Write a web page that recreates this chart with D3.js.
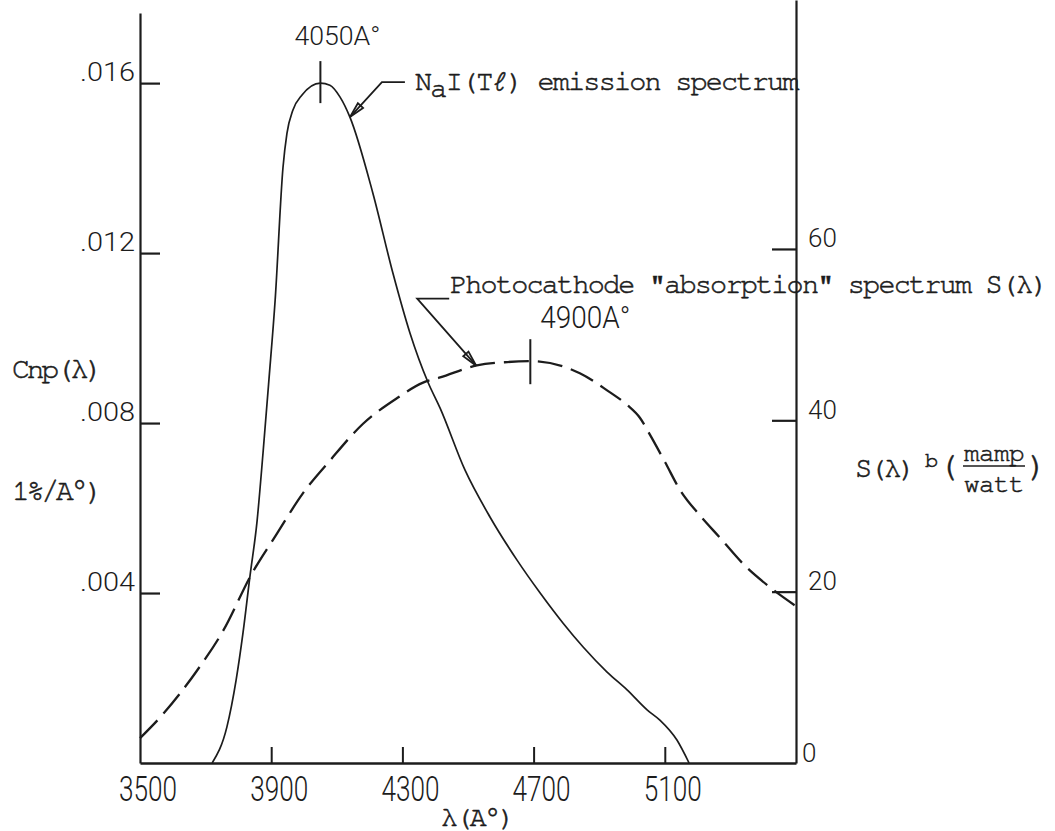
<!DOCTYPE html>
<html>
<head>
<meta charset="utf-8">
<script src="https://cdn.jsdelivr.net/npm/d3@7"></script>
<style>
  html, body { margin: 0; padding: 0; background: #fff; }
  svg { display: block; }
  .type { font-family: "Nimbus Mono PS", "FreeMono", "Liberation Mono", monospace; fill: #1c1c1c;
          stroke: #1c1c1c; stroke-width: 0.55; white-space: pre; }
  .num { font-family: Roboto, "DejaVu Sans", sans-serif; font-weight: 300; fill: #1c1c1c; }
</style>
</head>
<body>
<svg id="chart" width="1055" height="831"></svg>
<script>
// NaI(Tl) emission spectrum, Cnp(λ) in 1%/Å
const emissionWavelength = [3720, 3765, 3793, 3814, 3835, 3857, 3875, 3893, 3912, 3936, 3948, 3966, 3994, 4050,
  4079, 4110, 4140, 4210, 4271, 4323, 4378, 4415, 4491, 4567, 4649, 4720, 4790, 4851, 4924, 4985, 5046, 5085, 5137, 5174];
const emissionValue = [0, 0.00085, 0.00195, 0.00306, 0.00438, 0.0057, 0.00729, 0.00901, 0.01089, 0.01402, 0.01482, 0.01536, 0.01572, 0.0160,
  0.01595, 0.01567, 0.0152, 0.01341, 0.01153, 0.01012, 0.00896, 0.00835, 0.00689, 0.00579, 0.00478, 0.0040, 0.00329, 0.00273, 0.00214, 0.00172, 0.00125, 0.00101, 0.00054, 0];

// Photocathode "absorption" spectrum S(λ) in mamp/watt
const photoWavelength = [3500, 3570, 3674, 3753, 3841, 3918, 3997, 4079, 4180, 4284, 4363, 4415, 4527, 4620, 4690,
  4841, 4924, 4985, 5024, 5055, 5101, 5146, 5207, 5268, 5345, 5421, 5500];
const photoValue = [2.9, 5.7, 10.8, 15.4, 22.1, 26.8, 31.5, 35.3, 39.6, 42.6, 44.4, 45.0, 46.4, 46.8, 46.9,
  45.5, 43.5, 41.8, 40.3, 38.3, 35.1, 31.9, 28.9, 26.3, 23.0, 20.5, 18.3];

// Axis ticks and labels
const xTicks = [3900, 4300, 4700, 5100];
const xTickLabels = ["3500", "3900", "4300", "4700", "5100"];
const xLabelValues = [3500, 3900, 4300, 4700, 5100];
const leftTicks = [0.004, 0.008, 0.012, 0.016];
const leftTickLabels = [".004", ".008", ".012", ".016"];
const rightTicks = [0, 20, 40, 60];
const rightTickLabels = ["0", "20", "40", "60"];

const emissionPeakLabel = "4050A°";
const photoPeakLabel = "4900A°";

const ink = "#1c1c1c";
const svg = d3.select("#chart");

const x = d3.scaleLinear().domain([3500, 5500]).range([140, 796]);
const yL = d3.scaleLinear().domain([0, 0.01765]).range([763, 13]);
const yR = d3.scaleLinear().domain([0, 89.06]).range([763, 0]);

const emission = emissionWavelength.map((w, i) => [w, emissionValue[i]]);
const photo = photoWavelength.map((w, i) => [w, photoValue[i]]);

// ---- axes ----
// left axis: ticks point inward, labels drawn to the left
const gL = svg.append("g").attr("transform", `translate(${x(3500)},0)`)
  .call(d3.axisRight(yL).tickValues(leftTicks).tickSize(20).tickSizeOuter(0)
    .tickFormat((d, i) => leftTickLabels[i]));
gL.select(".domain").attr("stroke", ink).attr("stroke-width", 2.2);
gL.selectAll(".tick line").attr("stroke", ink).attr("stroke-width", 2.2);
gL.selectAll(".tick text").attr("class", "num").attr("font-size", 26)
  .attr("x", -5).attr("dy", -3).attr("text-anchor", "end")
  .attr("textLength", 55).attr("lengthAdjust", "spacingAndGlyphs");

// right axis: ticks point inward, labels to the right
const gR = svg.append("g").attr("transform", `translate(${x(5500)},0)`)
  .call(d3.axisLeft(yR).tickValues(rightTicks).tickSize(24).tickSizeOuter(0)
    .tickFormat((d, i) => rightTickLabels[i]));
gR.select(".domain").attr("stroke", ink).attr("stroke-width", 2.2);
gR.selectAll(".tick line").attr("stroke", ink).attr("stroke-width", 2.2)
  .attr("display", d => d === 0 ? "none" : null);
gR.selectAll(".tick text").attr("class", "num").attr("font-size", 26)
  .attr("x", d => d === 0 ? 6 : 12).attr("dy", -2).attr("text-anchor", "start");

// bottom axis: short upward ticks
const gB = svg.append("g").attr("transform", `translate(0,${yL(0)})`)
  .call(d3.axisTop(x).tickValues(xTicks).tickSize(16).tickSizeOuter(0).tickFormat(""));
gB.select(".domain").attr("stroke", ink).attr("stroke-width", 2.6);
gB.selectAll(".tick line").attr("stroke", ink).attr("stroke-width", 2);

// bottom tick labels (tall, narrow digits)
svg.append("g").selectAll("text").data(xLabelValues).join("text")
  .attr("class", "num").attr("font-size", 35)
  .attr("x", d => x(d) + 8 - 29).attr("y", yL(0) + 38)
  .attr("textLength", 58).attr("lengthAdjust", "spacingAndGlyphs")
  .text((d, i) => xTickLabels[i]);

// ---- curves ----
const lineL = d3.line().x(d => x(d[0])).y(d => yL(d[1])).curve(d3.curveMonotoneX);
const lineR = d3.line().x(d => x(d[0])).y(d => yR(d[1])).curve(d3.curveMonotoneX);

svg.append("path").datum(emission).attr("d", lineL)
  .attr("fill", "none").attr("stroke", ink).attr("stroke-width", 1.7);
svg.append("path").datum(photo).attr("d", lineR)
  .attr("fill", "none").attr("stroke", ink).attr("stroke-width", 2.3)
  .attr("stroke-dasharray", "25,9");

// ---- peak markers ----
const ePeak = emission.reduce((a, b) => b[1] > a[1] ? b : a);
const pPeak = photo.reduce((a, b) => b[1] > a[1] ? b : a);
svg.append("line").attr("x1", x(ePeak[0])).attr("x2", x(ePeak[0]))
  .attr("y1", yL(ePeak[1]) - 22).attr("y2", yL(ePeak[1]) + 20)
  .attr("stroke", ink).attr("stroke-width", 2);
svg.append("line").attr("x1", x(pPeak[0])).attr("x2", x(pPeak[0]))
  .attr("y1", yR(pPeak[1]) - 22).attr("y2", yR(pPeak[1]) + 23)
  .attr("stroke", ink).attr("stroke-width", 2);

svg.append("text").attr("class", "num").attr("font-size", 25)
  .attr("x", x(ePeak[0]) - 26).attr("y", 45)
  .attr("textLength", 86).attr("lengthAdjust", "spacingAndGlyphs")
  .text(emissionPeakLabel);
svg.append("text").attr("class", "num").attr("font-size", 31)
  .attr("x", x(pPeak[0]) + 10).attr("y", 328)
  .attr("textLength", 90).attr("lengthAdjust", "spacingAndGlyphs")
  .text(photoPeakLabel);

// ---- leader arrows ----
function interp(xs, ys, w) {
  const i = d3.bisectRight(xs, w) - 1;
  const t = (w - xs[i]) / (xs[i + 1] - xs[i]);
  return ys[i] + t * (ys[i + 1] - ys[i]);
}
function leader(tipX, tipY, dx, dy, barLen) {
  const tx = tipX + dx, ty = tipY + dy;
  const g = svg.append("g").attr("fill", "none").attr("stroke", ink).attr("stroke-width", 1.8);
  g.append("path").attr("d", `M${tx + barLen},${ty}H${tx}L${tipX},${tipY}`);
  const ang = Math.atan2(ty - tipY, tx - tipX);
  const len = 16, spread = 0.22;
  const a1 = [tipX + len * Math.cos(ang + spread), tipY + len * Math.sin(ang + spread)];
  const a2 = [tipX + len * Math.cos(ang - spread), tipY + len * Math.sin(ang - spread)];
  g.append("path").attr("d", `M${a1[0]},${a1[1]}L${tipX},${tipY}L${a2[0]},${a2[1]}Z`);
}
const eArrowW = 4140;
leader(x(eArrowW), yL(interp(emissionWavelength, emissionValue, eArrowW)), 32, -35, 23);
const pArrowW = 4525;
leader(x(pArrowW), yR(interp(photoWavelength, photoValue, pArrowW)), -59, -67, 32);

// ---- typewritten annotations (monospace, fixed pitch via letter-spacing) ----
function typed(x0, y0, size = 28.5, adv = 15.3) {
  return svg.append("text").attr("class", "type").attr("font-size", size)
    .attr("letter-spacing", (adv - 0.6 * size).toFixed(2))
    .attr("x", x0).attr("y", y0);
}

const na = typed(415, 90);
na.append("tspan").text("N");
na.append("tspan").attr("dy", 7).text("a");
na.append("tspan").attr("dy", -7).text("I(Tℓ) emission spectrum");

typed(450, 293).text("Photocathode \"absorption\" spectrum S(λ)");
typed(12, 378, 29.5, 14.7).text("Cnp(λ)");
typed(12, 500, 29.5, 14.7).text("1%/A°)");
typed(441, 826, 28, 14.4).text("λ(A°)");

// right axis title with fraction
typed(855, 477, 28.5, 14.6).text("S(λ)");
typed(925, 467, 22, 12).text("b");
typed(938, 476, 34, 14).text("(");
typed(964, 461, 26, 15).text("mamp");
svg.append("line").attr("x1", 963).attr("x2", 1025).attr("y1", 466).attr("y2", 466)
  .attr("stroke", ink).attr("stroke-width", 1.6);
typed(964, 492, 26, 15).text("watt");
typed(1027, 476, 34, 14).text(")");
</script>
</body>
</html>
